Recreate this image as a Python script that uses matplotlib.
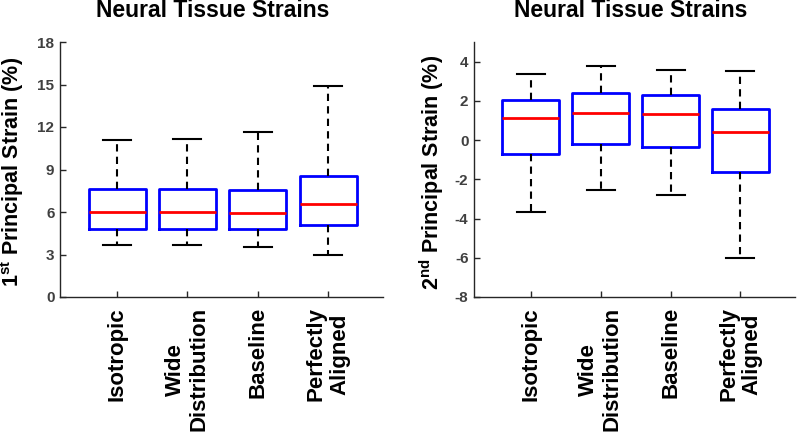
import matplotlib
matplotlib.use("Agg")
import matplotlib.pyplot as plt

plt.rcParams['font.family'] = ['Liberation Sans', 'DejaVu Sans']
plt.rcParams['font.weight'] = 'bold'
plt.rcParams['mathtext.fontset'] = 'custom'
plt.rcParams['mathtext.bf'] = 'Liberation Sans:bold'
plt.rcParams['mathtext.rm'] = 'Liberation Sans:bold'

categories = ["Isotropic", "Wide\nDistribution", "Baseline", "Perfectly\nAligned"]

# 1st principal strain (%) : whisker low, Q1, median, Q3, whisker high
p1_whislo = [3.7, 3.7, 3.5, 3.0]
p1_q1 = [4.82, 4.8, 4.8, 5.06]
p1_med = [6.0, 5.97, 5.9, 6.6]
p1_q3 = [7.62, 7.6, 7.53, 8.56]
p1_whishi = [11.05, 11.12, 11.65, 14.92]

# 2nd principal strain (%)
p2_whislo = [-3.68, -2.56, -2.81, -6.0]
p2_q1 = [-0.71, -0.2, -0.34, -1.61]
p2_med = [1.12, 1.39, 1.32, 0.39]
p2_q3 = [2.02, 2.42, 2.3, 1.58]
p2_whishi = [3.37, 3.78, 3.59, 3.51]

p1_yticks = [0, 3, 6, 9, 12, 15, 18]
p2_yticks = [-8, -6, -4, -2, 0, 2, 4]

fig = plt.figure(figsize=(8, 4.32), dpi=100)
ax1 = fig.add_axes([60/800, 1-297/432, 323/800, 255/432])
ax2 = fig.add_axes([474/800, 1-297/432, 321/800, 255/432])

axis_col = '#262626'
tick_col = '#404040'


def make_stats(lo, q1, med, q3, hi):
    return [dict(whislo=a, q1=b, med=c, q3=d, whishi=e, fliers=[])
            for a, b, c, d, e in zip(lo, q1, med, q3, hi)]


def draw(ax, stats, yticks, ylim, ylabel, labx, titlex):
    pos = list(range(1, len(categories) + 1))
    ax.bxp(stats, positions=pos, widths=0.81, capwidths=0.4,
           showfliers=False, manage_ticks=False,
           boxprops=dict(color='#0000FF', linewidth=2),
           medianprops=dict(color='#FF0000', linewidth=2),
           whiskerprops=dict(color='black', linewidth=1.5, linestyle=(0, (3.5, 2.5))),
           capprops=dict(color='black', linewidth=1.5))
    ax.set_xlim(0.19, 4.78)
    ax.set_ylim(*ylim)
    ax.set_yticks(yticks)
    ax.set_yticklabels([str(t) for t in yticks])
    ax.set_xticks(pos)
    ax.set_xticklabels([])
    for p, c in zip(pos, categories):
        ax.annotate(c, xy=(p, 0), xycoords=('data', 'axes fraction'),
                    xytext=(0, -10), textcoords='offset pixels',
                    rotation=90, ha='center', va='top', multialignment='center',
                    fontsize=16, fontweight='bold', color='black',
                    linespacing=1.15)
    for s in ['top', 'right']:
        ax.spines[s].set_visible(False)
    for s in ['left', 'bottom']:
        ax.spines[s].set_color(axis_col)
        ax.spines[s].set_linewidth(1.0)
    ax.tick_params(direction='in', length=4, width=1, color=axis_col,
                   labelcolor=tick_col, labelsize=11, pad=4)
    for lab in ax.get_yticklabels():
        lab.set_fontweight('bold')
    ax.set_ylabel(ylabel, fontsize=15.5, fontweight='bold', color='black')
    ax.yaxis.set_label_coords(labx, 0.49)
    ax.set_title("Neural Tissue Strains", fontsize=16.5, fontweight='bold',
                 color='black', pad=18, x=titlex)


draw(ax1, make_stats(p1_whislo, p1_q1, p1_med, p1_q3, p1_whishi),
     p1_yticks, (0, 18), r'$\mathbf{1^{st}}$ Principal Strain (%)', -0.104, 0.472)
draw(ax2, make_stats(p2_whislo, p2_q1, p2_med, p2_q3, p2_whishi),
     p2_yticks, (-8, 5), r'$\mathbf{2^{nd}}$ Principal Strain (%)', -0.087, 0.487)

fig.savefig("out.png", dpi=100)
